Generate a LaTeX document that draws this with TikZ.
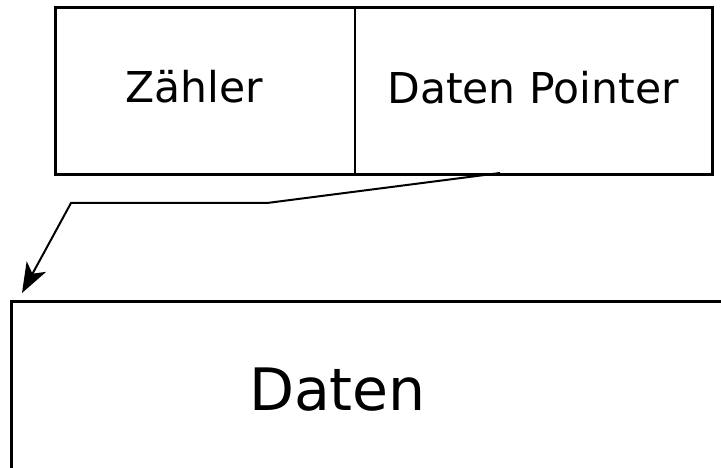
\documentclass[tikz,border=0pt]{standalone}
\usepackage{fontspec}
\setmainfont{DejaVu Sans}
\usepackage{tikz}
\usetikzlibrary{positioning,arrows.meta}

\tikzset{
  frame/.style={draw, line width=3pt, rectangle, inner sep=0pt},
  cell/.style={draw, line width=1.2pt, rectangle, inner sep=0pt},
  field/.style={inner sep=0pt, font=\fontsize{42.5}{50}\selectfont},
  pointer/.style={line width=2pt, -{Stealth[length=30pt, width=22pt, inset=8pt]}}
}

\begin{document}
\begin{tikzpicture}[x=1pt, y=-1pt]

\clip (0,0) rectangle (721,468);

% the two cells of the header
\node [cell, minimum width=299pt, minimum height=165pt, anchor=north west] (counter) at (55,8) {};
\node [cell, minimum width=356pt, minimum height=165pt, anchor=north west] (dataptr) at (counter.north east) {};
\draw [line width=3pt] (counter.north west) rectangle (dataptr.south east);

\node [field] (counter-text) at (194,87) {Zähler};
\node [field] (ptr-text) at (533,87.5) {Daten Pointer};

% the data block, running off the page
\node [frame, minimum width=760pt, minimum height=200pt, anchor=north west] (data) at (10,300) {};
\node [field, font=\fontsize{58.5}{70}\selectfont] (data-text) at (337.5,390) {Daten};

% pointer to the data
\coordinate (from) at (500,173);
\coordinate (bend-1) at (267,203);
\coordinate (bend-2) at (71,203);
\coordinate (to) at (22,293);
\draw [pointer] (from) -- (bend-1) -- (bend-2) -- (to);

\end{tikzpicture}
\end{document}
